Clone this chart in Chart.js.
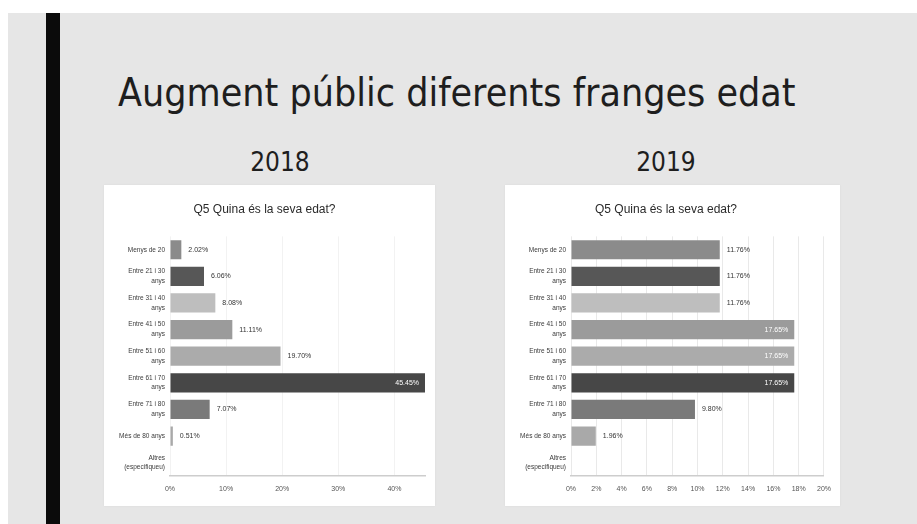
<!DOCTYPE html>
<html>
<head>
<meta charset="utf-8">
<title>Augment públic diferents franges edat</title>
<script src="https://cdn.jsdelivr.net/npm/chart.js@4.4.0/dist/chart.umd.min.js"></script>
<style>
  html, body { margin:0; padding:0; width:917px; height:524px; overflow:hidden; background:#fff; }
  #fons { position:absolute; left:8px; top:13px; width:909px; height:511px; background:#e6e6e6; }
  #barra { position:absolute; left:46px; top:13px; width:14px; height:511px; background:#0b0b0b; }
  h1 { position:absolute; left:118px; top:73px; margin:0; font-weight:normal;
       font:39px/39px "Liberation Sans Narrow", "DejaVu Sans Condensed", sans-serif; color:#1e1e1e; white-space:nowrap; }
  .any { position:absolute; top:149px; margin:0; width:120px; text-align:center;
         font:26px/26px "Liberation Sans Narrow", "DejaVu Sans Condensed", sans-serif; color:#1e1e1e; }
  .panell { position:absolute; top:185px; height:321px; background:#fff; box-shadow:0 0 2px rgba(0,0,0,0.06); }
  .panell canvas { display:block; }
</style>
</head>
<body>
<div id="fons"></div>
<div id="barra"></div>
<h1>Augment públic diferents franges edat</h1>
<div class="any" style="left:220px">2018</div>
<div class="any" style="left:606px">2019</div>
<div class="panell" style="left:104px;width:331px"><canvas id="grafic2018" width="331" height="321"></canvas></div>
<div class="panell" style="left:505px;width:335px"><canvas id="grafic2019" width="335" height="321"></canvas></div>

<script>
// ==================== Dades ====================
const pregunta = 'Q5 Quina és la seva edat?';

const franges = [
  'Menys de 20',
  ['Entre 21 i 30', 'anys'],
  ['Entre 31 i 40', 'anys'],
  ['Entre 41 i 50', 'anys'],
  ['Entre 51 i 60', 'anys'],
  ['Entre 61 i 70', 'anys'],
  ['Entre 71 i 80', 'anys'],
  'Més de 80 anys',
  ['Altres', '(especifiqueu)']
];

const valors2018 = [2.02, 6.06, 8.08, 11.11, 19.70, 45.45, 7.07, 0.51, 0];
const valors2019 = [11.76, 11.76, 11.76, 17.65, 17.65, 17.65, 9.80, 1.96, 0];

const marques2018 = [0, 10, 20, 30, 40];
const marques2019 = [0, 2, 4, 6, 8, 10, 12, 14, 16, 18, 20];

const colors = ['#8b8b8b', '#575757', '#bebebe', '#9b9b9b', '#ababab', '#474747', '#7a7a7a', '#a9a9a9', '#999999'];

// ==================== Etiquetes de valor ====================
const etiquetes = {
  id: 'etiquetes',
  afterDatasetsDraw(chart) {
    const { ctx } = chart;
    const vals = chart.data.datasets[0].data;
    const max = chart.scales.x.max;
    ctx.save();
    ctx.font = '7px "Liberation Sans", Arial, sans-serif';
    ctx.textBaseline = 'middle';
    chart.getDatasetMeta(0).data.forEach((bar, i) => {
      const v = vals[i];
      if (!v) return;
      const txt = v.toFixed(2) + '%';
      if (v > max * 0.8) {
        ctx.fillStyle = '#ffffff';
        ctx.textAlign = 'right';
        ctx.fillText(txt, bar.x - 6, bar.y);
      } else {
        ctx.fillStyle = '#333333';
        ctx.textAlign = 'left';
        ctx.fillText(txt, bar.x + 7, bar.y);
      }
    });
    ctx.restore();
  }
};

// ==================== Gràfic ====================
function crearGrafic(id, valors, marques, max, colorReixa, margeDreta) {
  return new Chart(document.getElementById(id), {
    type: 'bar',
    data: {
      labels: franges,
      datasets: [{
        data: valors,
        backgroundColor: colors,
        barPercentage: 0.72,
        categoryPercentage: 1
      }]
    },
    plugins: [etiquetes],
    options: {
      indexAxis: 'y',
      responsive: false,
      animation: false,
      layout: { padding: { left: 0, right: margeDreta, top: 0, bottom: 0 } },
      plugins: {
        legend: { display: false },
        tooltip: { enabled: false },
        title: {
          display: true,
          text: pregunta,
          color: '#2a2a2a',
          font: { family: '"Liberation Sans", Arial, sans-serif', size: 12, weight: 'normal' },
          padding: { top: 17, bottom: 20 }
        }
      },
      scales: {
        x: {
          min: 0,
          max: max,
          afterBuildTicks: s => { s.ticks = marques.map(v => ({ value: v })); },
          afterFit: s => { s.height = 30; },
          grid: { color: colorReixa, drawTicks: false },
          border: { color: '#cdcdcd', width: 1.5 },
          ticks: {
            padding: 9,
            color: '#555',
            font: { family: '"Liberation Sans", Arial, sans-serif', size: 7 },
            callback: v => v + '%'
          }
        },
        y: {
          afterFit: s => { s.width = 66; },
          grid: { display: false, drawTicks: false },
          border: { display: false },
          ticks: {
            padding: 5,
            color: '#3a3a3a',
            font: { family: '"Liberation Sans", Arial, sans-serif', size: 6.5, lineHeight: 1.5 }
          }
        }
      }
    }
  });
}

crearGrafic('grafic2018', valors2018, marques2018, 45.45, '#f2f2f2', 10);
crearGrafic('grafic2019', valors2019, marques2019, 20, '#e9e9e9', 13);
</script>
</body>
</html>
